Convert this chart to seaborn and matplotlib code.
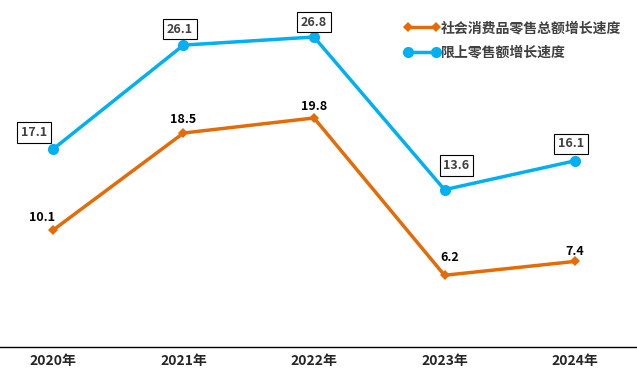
import pandas as pd
import matplotlib
matplotlib.use('Agg')
import matplotlib.pyplot as plt
import seaborn as sns

# 数据
years = ['2020年', '2021年', '2022年', '2023年', '2024年']
total_retail = [10.1, 18.5, 19.8, 6.2, 7.4]
above_limit = [17.1, 26.1, 26.8, 13.6, 16.1]
name_total = '社会消费品零售总额增长速度'
name_above = '限上零售额增长速度'

sns.set_style('white')
plt.rcParams['font.family'] = ['Noto Sans CJK SC', 'DejaVu Sans']

df = pd.DataFrame({'年份': years, name_total: total_retail, name_above: above_limit})
df['x'] = range(len(years))

fig = plt.figure(figsize=(6.37, 3.74), dpi=100)
ax = fig.add_axes([0, 27 / 374, 1, 347 / 374])

orange = '#E36C09'
blue = '#00B0F0'

sns.lineplot(data=df, x='x', y=name_total, ax=ax, color=orange, linewidth=2.5,
             marker='D', markersize=5, markeredgewidth=0, label=name_total)
sns.lineplot(data=df, x='x', y=name_above, ax=ax, color=blue, linewidth=2.5,
             marker='o', markersize=8, markeredgewidth=0, label=name_above)

# 数据标签
off_total = [(-8, 9.4), (0, 10), (0, 8.6), (3.6, 13), (0, 7.2)]
for i, v in enumerate(total_retail):
    ax.annotate(f'{v}', (i, v), xytext=off_total[i], textcoords='offset points',
                ha='center', va='center', fontsize=9, fontweight='bold', color='black')

off_above = [(-13.7, 11.9), (-2.5, 11.5), (0, 10.8), (8.6, 17.3), (-2.9, 12.2)]
for i, v in enumerate(above_limit):
    ax.annotate(f'{v}', (i, v), xytext=off_above[i], textcoords='offset points',
                ha='center', va='center', fontsize=9, fontweight='bold', color='#404040',
                bbox=dict(boxstyle='square,pad=0.3', fc='white', ec='black', lw=0.8))

ax.set_xlim(-0.406, 4.475)
ax.set_ylim(0, 30)
ax.set_xticks([i + 0.5 for i in range(4)])
ax.set_xticklabels([])
ax.set_xticks(range(5), minor=True)
ax.set_xticklabels(years, minor=True, fontsize=10, fontweight='bold')
ax.tick_params(axis='x', which='major', length=5, width=0.8, color='black', direction='out')
ax.tick_params(axis='x', which='minor', length=0, pad=5)
ax.set_yticks([])
ax.set_xlabel('')
ax.set_ylabel('')
for s in ['top', 'left', 'right']:
    ax.spines[s].set_visible(False)
ax.spines['bottom'].set_color('black')
ax.spines['bottom'].set_linewidth(1)

leg = ax.legend(loc='upper right', bbox_to_anchor=(0.995, 0.975), frameon=False, numpoints=2,
                handlelength=2.6, handletextpad=0.05, labelspacing=0.75,
                prop={'size': 10, 'weight': 'bold'})
for t in leg.get_texts():
    t.set_color('#404040')

fig.savefig('out.png', dpi=100)
